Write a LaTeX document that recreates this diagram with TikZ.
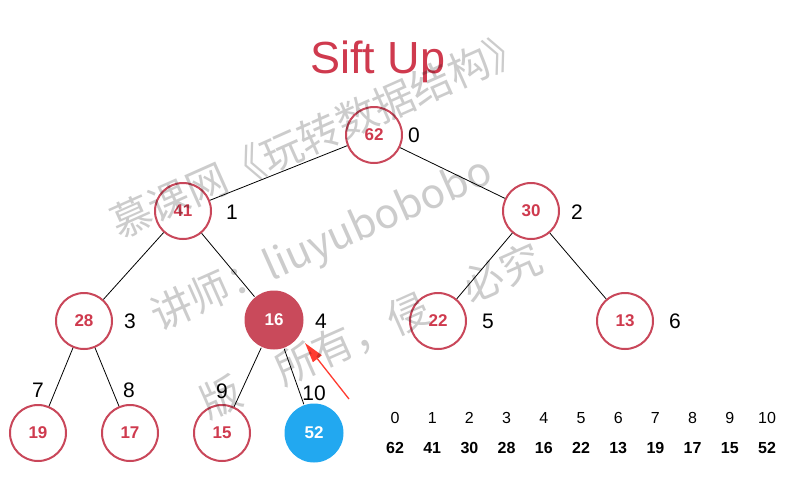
\documentclass[tikz,border=0pt]{standalone}
\usepackage{fontspec}
\setmainfont{Liberation Sans}
\newfontfamily\cjk{Noto Sans CJK SC}
\usetikzlibrary{arrows.meta}
\definecolor{hred}{HTML}{C9475A}
\definecolor{htext}{HTML}{CF3A4E}
\definecolor{hfill}{HTML}{C94A5B}
\definecolor{hblue}{HTML}{22A8F0}
\definecolor{harrow}{HTML}{FF3B30}
\tikzset{
  hnode/.style={circle, draw=hred, line width=2pt, fill=white, minimum size=56pt, inner sep=0pt,
    font=\fontsize{17}{17}\selectfont\bfseries, text=htext},
  curnode/.style={hnode, draw=none, fill=hfill, minimum size=59pt, text=white},
  newnode/.style={hnode, draw=none, fill=hblue, minimum size=59pt, text=white},
  idx/.style={font=\fontsize{21}{21}\selectfont, text=black, inner sep=0pt},
  arridx/.style={font=\fontsize{16}{16}\selectfont, inner sep=0pt},
  arrval/.style={font=\fontsize{16}{16}\selectfont\bfseries, inner sep=0pt},
  edge/.style={black, line width=0.8pt},
  wmark/.style={text=black, text opacity=0.2, font=\cjk\fontsize{41}{41}\selectfont, rotate=24, inner sep=0pt}
}
\begin{document}
\begin{tikzpicture}[x=1pt,y=-1pt]
\useasboundingbox (0,0) rectangle (797,477);
% title
\node[font=\fontsize{45}{45}\selectfont, text=htext] (title) at (378,62) {Sift Up};
% nodes
\node[hnode] (n0) at (374,135) {62};
\node[hnode] (n1) at (183,211) {41};
\node[hnode] (n2) at (531,211) {30};
\node[hnode] (n3) at (84,321) {28};
\node[curnode] (n4) at (274,320) {16};
\node[hnode] (n5) at (438,321) {22};
\node[hnode] (n6) at (625,321) {13};
\node[hnode] (n7) at (38,433) {19};
\node[hnode] (n8) at (130,433) {17};
\node[hnode] (n9) at (222,433) {15};
\node[newnode] (n10) at (314,433) {52};
% edges
\draw[edge] (n0) -- (n1);
\draw[edge] (n0) -- (n2);
\draw[edge] (n1) -- (n3);
\draw[edge] (n1) -- (n4);
\draw[edge] (n2) -- (n5);
\draw[edge] (n2) -- (n6);
\draw[edge] (n3) -- (n7);
\draw[edge] (n3) -- (n8);
\draw[edge] (n4) -- (n9);
\draw[edge] (n4) -- (n10);
% index labels
\node[idx] (i0) at (414,135) {0};
\node[idx] (i1) at (232,212) {1};
\node[idx] (i2) at (577,212) {2};
\node[idx] (i3) at (130,321) {3};
\node[idx] (i4) at (321,321) {4};
\node[idx] (i5) at (488,321) {5};
\node[idx] (i6) at (675,321) {6};
\node[idx] (i7) at (38,390) {7};
\node[idx] (i8) at (129,390) {8};
\node[idx] (i9) at (222,391) {9};
\node[idx] (i10) at (314,393) {10};
% arrow
\coordinate (atail) at (349,399);
\coordinate (ahead) at (305,343);
\draw[harrow, line width=1.3pt, -{Triangle[length=20pt,width=11pt]}] (atail) -- (ahead);
% array
\foreach \v [count=\i from 0] in {62,41,30,28,16,22,13,19,17,15,52} {
  \node[arridx] (a\i) at (395+37.2*\i,418) {\i};
  \node[arrval] (v\i) at (395+37.2*\i,448) {\v};
}
% watermark
\node[wmark] (wm1) at (319,134) {慕课网《玩转数据结构》};
\node[wmark] (wm2) at (322,245) {讲师：liuyubobobo};
\node[wmark] (wm3) at (371,331) {版　所有，侵　必究};
\end{tikzpicture}
\end{document}
